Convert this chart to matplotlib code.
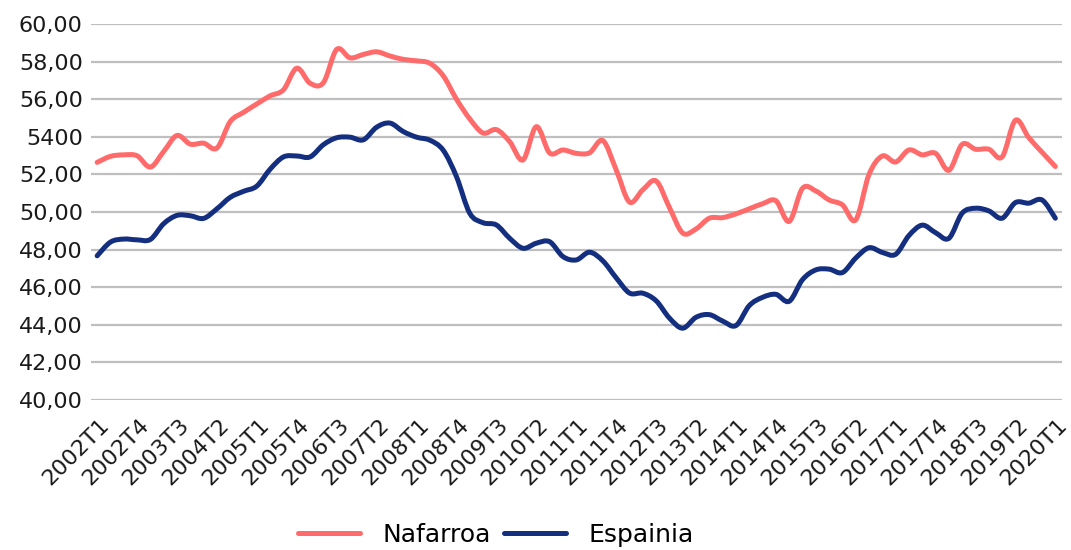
import numpy as np
import matplotlib
matplotlib.use("Agg")
import matplotlib.pyplot as plt
from matplotlib.path import Path
from matplotlib.patches import PathPatch
from matplotlib.lines import Line2D
from matplotlib.transforms import ScaledTranslation

# quarters 2002T1 .. 2020T1
years = list(range(2002, 2021))
quarters = [f"{y}T{q}" for y in years for q in range(1, 5)][:73]

nafarroa = [52.64, 52.96, 53.04, 52.99, 52.39, 53.22, 54.07, 53.61, 53.66, 53.40,
            54.81, 55.30, 55.75, 56.18, 56.50, 57.65, 56.85, 56.88, 58.65, 58.20,
            58.38, 58.52, 58.30, 58.12, 58.04, 57.91, 57.25, 56.00, 54.95, 54.20,
            54.38, 53.74, 52.77, 54.54, 53.14, 53.30, 53.12, 53.15, 53.80, 52.24,
            50.53, 51.18, 51.65, 50.24, 48.88, 49.10, 49.67, 49.70, 49.90, 50.17,
            50.44, 50.60, 49.50, 51.26, 51.12, 50.64, 50.38, 49.58, 52.00, 52.98,
            52.66, 53.30, 53.04, 53.12, 52.22, 53.60, 53.34, 53.34, 52.93, 54.88,
            53.96, 53.18, 52.42]

espainia = [47.67, 48.40, 48.56, 48.52, 48.54, 49.38, 49.82, 49.80, 49.66, 50.17,
            50.78, 51.10, 51.38, 52.28, 52.93, 52.98, 52.93, 53.58, 53.95, 53.98,
            53.84, 54.51, 54.73, 54.28, 53.98, 53.82, 53.29, 51.88, 49.93, 49.43,
            49.31, 48.60, 48.07, 48.34, 48.42, 47.63, 47.45, 47.86, 47.40, 46.50,
            45.69, 45.68, 45.28, 44.36, 43.82, 44.40, 44.54, 44.20, 43.96, 45.02,
            45.46, 45.62, 45.25, 46.40, 46.92, 46.96, 46.78, 47.55, 48.10, 47.85,
            47.75, 48.75, 49.30, 48.90, 48.60, 49.94, 50.20, 50.06, 49.67, 50.50,
            50.47, 50.64, 49.67]

yticks = [40, 42, 44, 46, 48, 50, 52, 54, 56, 58, 60]
ytick_labels = ["40,00", "42,00", "44,00", "46,00", "48,00", "50,00",
                "52,00", "5400", "56,00", "58,00", "60,00"]

RED = "#ff6b6b"
BLUE = "#142f7f"


def smooth_path(xs, ys):
    # bezier segments like a spreadsheet "smoothed line"
    pts = np.column_stack([xs, ys]).astype(float)
    n = len(pts)
    verts = [pts[0]]
    codes = [Path.MOVETO]
    for i in range(n - 1):
        p0 = pts[max(i - 1, 0)]
        p1 = pts[i]
        p2 = pts[i + 1]
        p3 = pts[min(i + 2, n - 1)]
        c1 = p1 + (p2 - p0) / 6.0
        c2 = p2 - (p3 - p1) / 6.0
        verts += [c1, c2, p2]
        codes += [Path.CURVE4] * 3
    return Path(verts, codes)


fig = plt.figure(figsize=(10.71, 5.5), dpi=100)
ax = fig.add_axes([90.5 / 1071, 1 - 400 / 550, (1062 - 90.5) / 1071, 376 / 550])

x = np.arange(len(quarters))
for ser, col in [(nafarroa, RED), (espainia, BLUE)]:
    patch = PathPatch(smooth_path(x, ser), facecolor="none", edgecolor=col,
                      lw=3.6, capstyle="round", joinstyle="round", zorder=3)
    ax.add_patch(patch)

ax.set_xlim(-0.5, len(quarters) - 0.5)
ax.set_ylim(40, 60)
ax.set_yticks(yticks)
ax.set_yticklabels(ytick_labels, fontsize=16, color="#1a1a1a")
ax.set_xticks(x[::3])
ax.set_xticklabels(quarters[::3], fontsize=16, color="#1a1a1a", rotation=45,
                   ha="right", va="center", rotation_mode="anchor")
ax.tick_params(axis="both", length=0)
ax.tick_params(axis="x", pad=0)
ax.tick_params(axis="y", pad=5.5)
shift = ScaledTranslation(0.09, -0.22, fig.dpi_scale_trans)
for lab in ax.get_xticklabels():
    lab.set_transform(lab.get_transform() + shift)
ax.grid(axis="y", color="#bfbfbf", lw=1.6)
ax.set_axisbelow(True)
for s in ax.spines.values():
    s.set_visible(False)

handles = [Line2D([], [], color=RED, lw=3.6, solid_capstyle="round"),
           Line2D([], [], color=BLUE, lw=3.6, solid_capstyle="round")]
fig.legend(handles, ["Nafarroa", "Espainia"], loc="lower center",
           bbox_to_anchor=(0.463, -0.035), ncol=2, frameon=False, fontsize=18,
           handlelength=2.5, handletextpad=0.9, columnspacing=0.5)

fig.savefig("out.png", dpi=100)
